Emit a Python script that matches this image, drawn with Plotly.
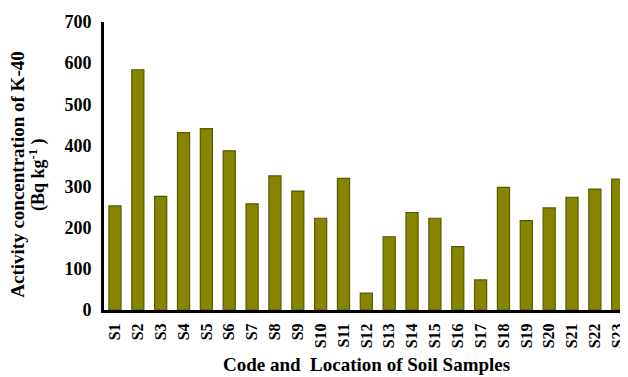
import plotly.graph_objects as go

samples = [f"S{i}" for i in range(1, 24)]
k40 = [253, 584, 276, 431, 441, 387, 258, 326, 289, 223, 320,
       41, 178, 237, 223, 154, 73, 298, 217, 248, 274, 294, 318]
y_ticks = [0, 100, 200, 300, 400, 500, 600, 700]

font_family = "Liberation Serif, Times New Roman, serif"

fig = go.Figure(go.Bar(
    x=samples, y=k40,
    marker=dict(color="#858500", line=dict(color="#5a5a00", width=1.2)),
))

# The page body adds an 8px offset, so the figure is sized to fit the window.
fig.update_layout(
    width=620, height=369,
    margin=dict(l=96, r=0, t=14, b=67),
    paper_bgcolor="white", plot_bgcolor="white",
    bargap=0.47,
    showlegend=False,
    font=dict(family=font_family, color="black"),
    xaxis=dict(
        tickangle=-90,
        tickfont=dict(size=16, family=font_family, color="black", weight="bold"),
        showline=True, linecolor="black", linewidth=3,
        showgrid=False, ticks="",
        range=[-0.48, 22.45],
        ticklabelstandoff=4,
    ),
    yaxis=dict(
        range=[0, 700], tickvals=y_ticks,
        tickfont=dict(size=18, family=font_family, color="black", weight="bold"),
        showline=True, linecolor="black", linewidth=3,
        showgrid=False, ticks="", zeroline=False,
        ticklabelstandoff=6,
    ),
    annotations=[
        dict(text="Activity concentration of K-40",
             xref="paper", yref="paper", x=-0.164, y=0.47,
             xanchor="center", yanchor="middle", textangle=-90, showarrow=False,
             font=dict(size=19, family=font_family, color="black", weight="bold")),
        dict(text="(Bq kg<sup>-1</sup> )",
             xref="paper", yref="paper", x=-0.127, y=0.47,
             xanchor="center", yanchor="middle", textangle=-90, showarrow=False,
             font=dict(size=18, family=font_family, color="black", weight="bold")),
        dict(text="Code and  Location of Soil Samples",
             xref="paper", yref="paper", x=0.5, y=-0.19,
             xanchor="center", yanchor="middle", showarrow=False,
             font=dict(size=19, family=font_family, color="black", weight="bold")),
    ],
)

fig.write_html("out.html")
